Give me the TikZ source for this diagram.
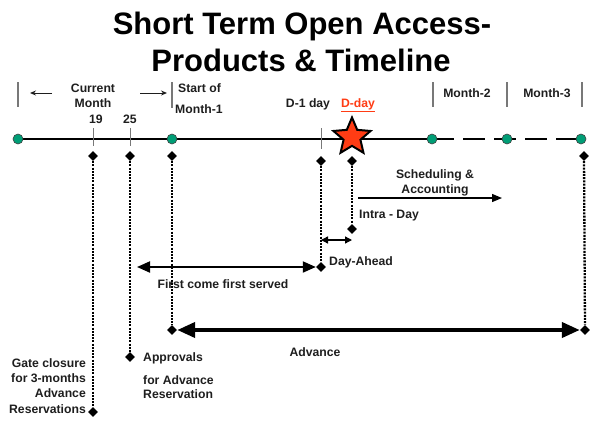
\documentclass[tikz,border=0pt]{standalone}
\usepackage{fontspec}
\setmainfont{Liberation Sans}
\usetikzlibrary{arrows.meta,shapes.geometric}
\definecolor{ink}{RGB}{30,30,30}
\definecolor{dotgreen}{RGB}{0,158,118}
\definecolor{ddayred}{RGB}{255,60,20}
\definecolor{sepgray}{RGB}{120,120,120}
\pgfdeclarelayer{bg}
\pgfsetlayers{bg,main}

\begin{document}
\begin{tikzpicture}[x=1pt,y=-1pt,
  lbl/.style={font=\fontsize{12.2}{15.3}\selectfont\bfseries, text=ink, inner sep=0pt},
  ttl/.style={font=\fontsize{31}{36}\selectfont\bfseries, text=black, inner sep=0pt},
  gdot/.style={circle, fill=dotgreen, draw=black!75, line width=0.6pt, minimum size=10pt, inner sep=0pt},
  dmd/.style={diamond, fill=black, minimum size=10pt, inner sep=0pt},
  sepline/.style={draw=sepgray, line width=1.1pt},
  drop/.style={line width=2.3pt, dash pattern=on 2pt off 1.2pt},
  thindrop/.style={line width=1.8pt, dash pattern=on 2pt off 1.2pt},
]
\path[use as bounding box] (0,0) rectangle (591,420);

% title
\node[ttl, anchor=base] (title1) at (302,35) {Short Term Open Access-};
\node[ttl, anchor=base] (title2) at (301,71) {Products \& Timeline};

% timeline points
\node[gdot] (d0) at (18,139) {};
\node[gdot] (d1) at (172,139) {};
\node[gdot] (d2) at (432,139) {};
\node[gdot] (d3) at (507,139) {};
\node[gdot] (d4) at (581,139) {};
\node[star, star points=5, star point ratio=2.2, minimum size=39pt, inner sep=0pt,
      fill=ddayred, draw=black, line width=2pt] (dday) at (352,137) {};

\begin{pgfonlayer}{bg}
  \draw[line width=2pt] (d0.center) -- (d2.center);
  \draw[line width=2.6pt, dash pattern=on 22pt off 9pt] (d2.center) -- (d4.center);
  % day ticks on the line
  \draw[sepline, line width=0.9pt] (93,128) -- (93,146);
  \draw[sepline, line width=0.9pt] (130,128) -- (130,146);
  \draw[sepline, line width=0.9pt] (321,128) -- (321,149);
\end{pgfonlayer}

% month separators
\draw[sepline] (18,82) -- (18,107);
\draw[sepline] (172,82) -- (172,108);
\draw[sepline] (433,82) -- (433,107);
\draw[sepline] (507,82) -- (507,107);
\draw[sepline] (582,82) -- (582,107);

% current month span
\coordinate (cmA) at (52,93);
\coordinate (cmB) at (30,93);
\coordinate (cmC) at (140,93);
\coordinate (cmD) at (167,93);
\draw[ink, line width=1pt, -{Stealth[length=6pt,width=5pt]}] (cmA) -- (cmB);
\draw[ink, line width=1pt, -{Stealth[length=6pt,width=5pt]}] (cmC) -- (cmD);

% labels above the line
\node[lbl, anchor=base] (lcur) at (93,92) {Current};
\node[lbl, anchor=base] (lmon) at (93,107) {Month};
\node[lbl, anchor=base] (l19) at (96,123) {19};
\node[lbl, anchor=base] (l25) at (130,123) {25};
\node[lbl, anchor=base west] (lst) at (178,92) {Start of};
\node[lbl, anchor=base west] (lm1) at (175,113) {Month-1};
\node[lbl, anchor=base] (ldm1) at (308,107) {D-1 day};
\node[lbl, anchor=base, text=ddayred] (ldday) at (358,107) {\underline{D-day}};
\node[lbl, anchor=base] (lm2) at (467,97) {Month-2};
\node[lbl, anchor=base] (lm3) at (547,97) {Month-3};

% markers below the line
\node[dmd] (t19) at (93,156) {};
\node[dmd] (t25) at (130,156) {};
\node[dmd] (tm1) at (172,156) {};
\node[dmd] (tdm1) at (321,161) {};
\node[dmd] (tday) at (352,161) {};
\node[dmd] (tm3) at (584,156) {};

\node[dmd] (b19) at (93,412) {};
\node[dmd] (b25) at (130,357) {};
\node[dmd] (bm1) at (172,330) {};
\node[dmd] (bdm1) at (321,267) {};
\node[dmd] (bday) at (352,229) {};
\node[dmd] (bm3) at (585,330) {};

\draw[drop] (t19) -- (b19);
\draw[thindrop] (t25) -- (b25);
\draw[drop] (tm1) -- (bm1);
\draw[thindrop] (tdm1) -- (bdm1);
\draw[thindrop] (tday) -- (bday);
\draw[drop] (tm3) -- (bm3);

% product spans
\coordinate (fcL) at (137,267);
\draw[line width=2pt, {Triangle[length=13pt,width=11pt]}-{Triangle[length=13pt,width=11pt]}] (fcL) -- (bdm1.west);

\coordinate (daL) at (321,240);
\coordinate (daR) at (352,240);
\draw[line width=1.3pt, {Triangle[length=7pt,width=7pt]}-{Triangle[length=7pt,width=7pt]}] (daL) -- (daR);

\draw[line width=4pt, {Triangle[length=18pt,width=15pt]}-{Triangle[length=18pt,width=15pt]}] (bm1.east) -- (bm3.west);

\coordinate (scL) at (358,198);
\coordinate (scR) at (502,198);
\draw[line width=1.3pt, -{Triangle[length=10pt,width=8pt]}] (scL) -- (scR);

% labels below the line
\node[lbl, anchor=base] (lsch) at (435,178) {Scheduling \&};
\node[lbl, anchor=base] (lacc) at (435,193) {Accounting};
\node[lbl, anchor=base west] (lintra) at (359,218) {Intra - Day};
\node[lbl, anchor=base west] (lda) at (329,265) {Day-Ahead};
\node[lbl, anchor=base] (lfc) at (223,288) {First come first served};
\node[lbl, anchor=base] (ladv) at (315,356) {Advance};
\node[lbl, anchor=base west] (lappr) at (143,361) {Approvals};
\node[lbl, anchor=base west] (lfor) at (143,384) {for Advance};
\node[lbl, anchor=base west] (lres) at (143,398) {Reservation};
\node[lbl, anchor=base east] (lg1) at (86,367) {Gate closure};
\node[lbl, anchor=base east] (lg2) at (86,382) {for 3-months};
\node[lbl, anchor=base east] (lg3) at (86,397) {Advance};
\node[lbl, anchor=base east] (lg4) at (86,413) {Reservations};
\end{tikzpicture}
\end{document}
